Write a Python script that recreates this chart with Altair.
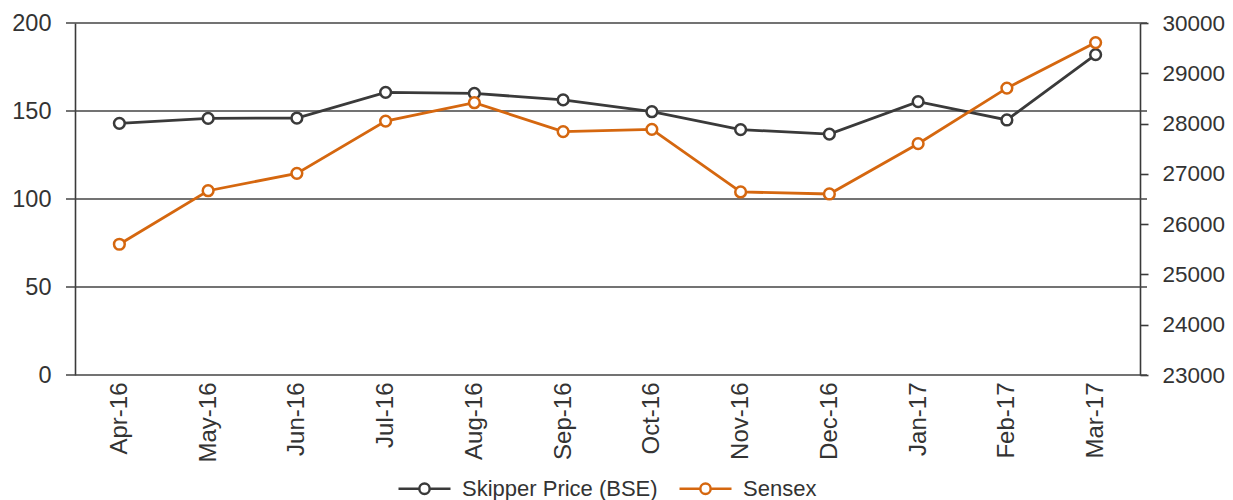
import altair as alt
import pandas as pd

months = ["Apr-16", "May-16", "Jun-16", "Jul-16", "Aug-16", "Sep-16",
          "Oct-16", "Nov-16", "Dec-16", "Jan-17", "Feb-17", "Mar-17"]
skipper = [143.0, 145.8, 146.0, 160.6, 160.0, 156.3, 149.6, 139.4, 136.9, 155.3, 144.9, 182.0]
sensex = [25600, 26665, 27010, 28050, 28415, 27840, 27885, 26640, 26600, 27600, 28705, 29610]
series_names = ["Skipper Price (BSE)", "Sensex"]
colors = ["#3a3a3a", "#d5670f"]
left_ticks = [0, 50, 100, 150, 200]
right_ticks = [23000, 24000, 25000, 26000, 27000, 28000, 29000, 30000]
title_text = "Share Price on BSE vis-à-vis BSE Sensex"

W, H = 1065, 352
FONT = "Liberation Sans"
AX = "#3a3a3a"
TXT = "#333333"
GRID = "#444444"

df = pd.DataFrame({
    "month": months * 2,
    "value": skipper + sensex,
    "series": [series_names[0]] * len(months) + [series_names[1]] * len(months),
})
grid_df = pd.DataFrame({"g": left_ticks})

x_enc = alt.X("month:N", sort=months, title=None,
              axis=alt.Axis(domain=False, ticks=False, labelAngle=270,
                            labelAlign="right", labelBaseline="middle",
                            labelPadding=7, labelFontSize=24, labelColor=TXT,
                            labelFont=FONT))

color_enc = alt.Color("series:N",
                      scale=alt.Scale(domain=series_names, range=colors),
                      legend=alt.Legend(title=None, orient="none", direction="horizontal",
                                        legendX=322, legendY=438,
                                        symbolType="M-1,0H-0.2 M0.2,0H1 M-0.2,0A0.2,0.2 0 1,1 0.2,0A0.2,0.2 0 1,1 -0.2,0Z",
                                        symbolSize=2704, symbolStrokeWidth=2.5,
                                        symbolFillColor="white",
                                        labelFontSize=22, labelFont=FONT, labelColor=TXT,
                                        labelLimit=0, labelOffset=10, columnPadding=16))

left_scale = alt.Scale(domain=[0, 200], nice=False, zero=False)
right_scale = alt.Scale(domain=[23000, 30000], nice=False, zero=False)
stroke_scale = alt.Scale(domain=series_names, range=colors)

rules = alt.Chart(grid_df).mark_rule(color=GRID, strokeWidth=1.6).encode(
    y=alt.Y("g:Q", scale=left_scale, title=None,
            axis=alt.Axis(values=left_ticks, domain=True, domainColor=AX, domainWidth=1.6,
                          ticks=False, grid=False, labelPadding=24,
                          labelFontSize=23.5, labelFont=FONT, labelColor=TXT)),
    x=alt.value(-9), x2=alt.value(W + 7),
)

sk = alt.Chart(df).transform_filter(alt.datum.series == series_names[0])
sk_line = sk.mark_line(strokeWidth=2.8).encode(
    x=x_enc, y=alt.Y("value:Q", scale=left_scale), color=color_enc)
sk_pt = sk.mark_point(filled=True, fill="white", strokeWidth=2.5, size=115, opacity=1).encode(
    x=x_enc, y=alt.Y("value:Q", scale=left_scale),
    stroke=alt.Stroke("series:N", scale=stroke_scale, legend=None))

left = alt.layer(rules, sk_line, sk_pt)

se = alt.Chart(df).transform_filter(alt.datum.series == series_names[1])
right_y = alt.Y("value:Q", scale=right_scale, title=None,
                axis=alt.Axis(orient="right", values=right_ticks, format="d",
                              domain=True, domainColor=AX, domainWidth=1.6,
                              tickColor=AX, tickSize=8, tickWidth=1.6,
                              grid=False, labelPadding=14,
                              labelFontSize=22.5, labelFont=FONT, labelColor=TXT))
se_line = se.mark_line(strokeWidth=2.8).encode(x=x_enc, y=right_y, color=color_enc)
se_pt = se.mark_point(filled=True, fill="white", strokeWidth=2.5, size=115, opacity=1).encode(
    x=x_enc, y=alt.Y("value:Q", scale=right_scale),
    stroke=alt.Stroke("series:N", scale=stroke_scale, legend=None))
right = alt.layer(se_line, se_pt)

chart = alt.layer(left, right).resolve_scale(y="independent").properties(
    width=W, height=H,
    autosize=alt.AutoSizeParams(type="none"),
    padding={"left": 67, "top": 15, "right": 85, "bottom": 125},
    title=alt.TitleParams(title_text, fontSize=22, font=FONT, fontWeight="bold",
                          color="#222222", offset=18, anchor="middle"),
).configure_view(stroke=None)

chart.save("out.html", embed_options={"renderer": "svg", "actions": False})
